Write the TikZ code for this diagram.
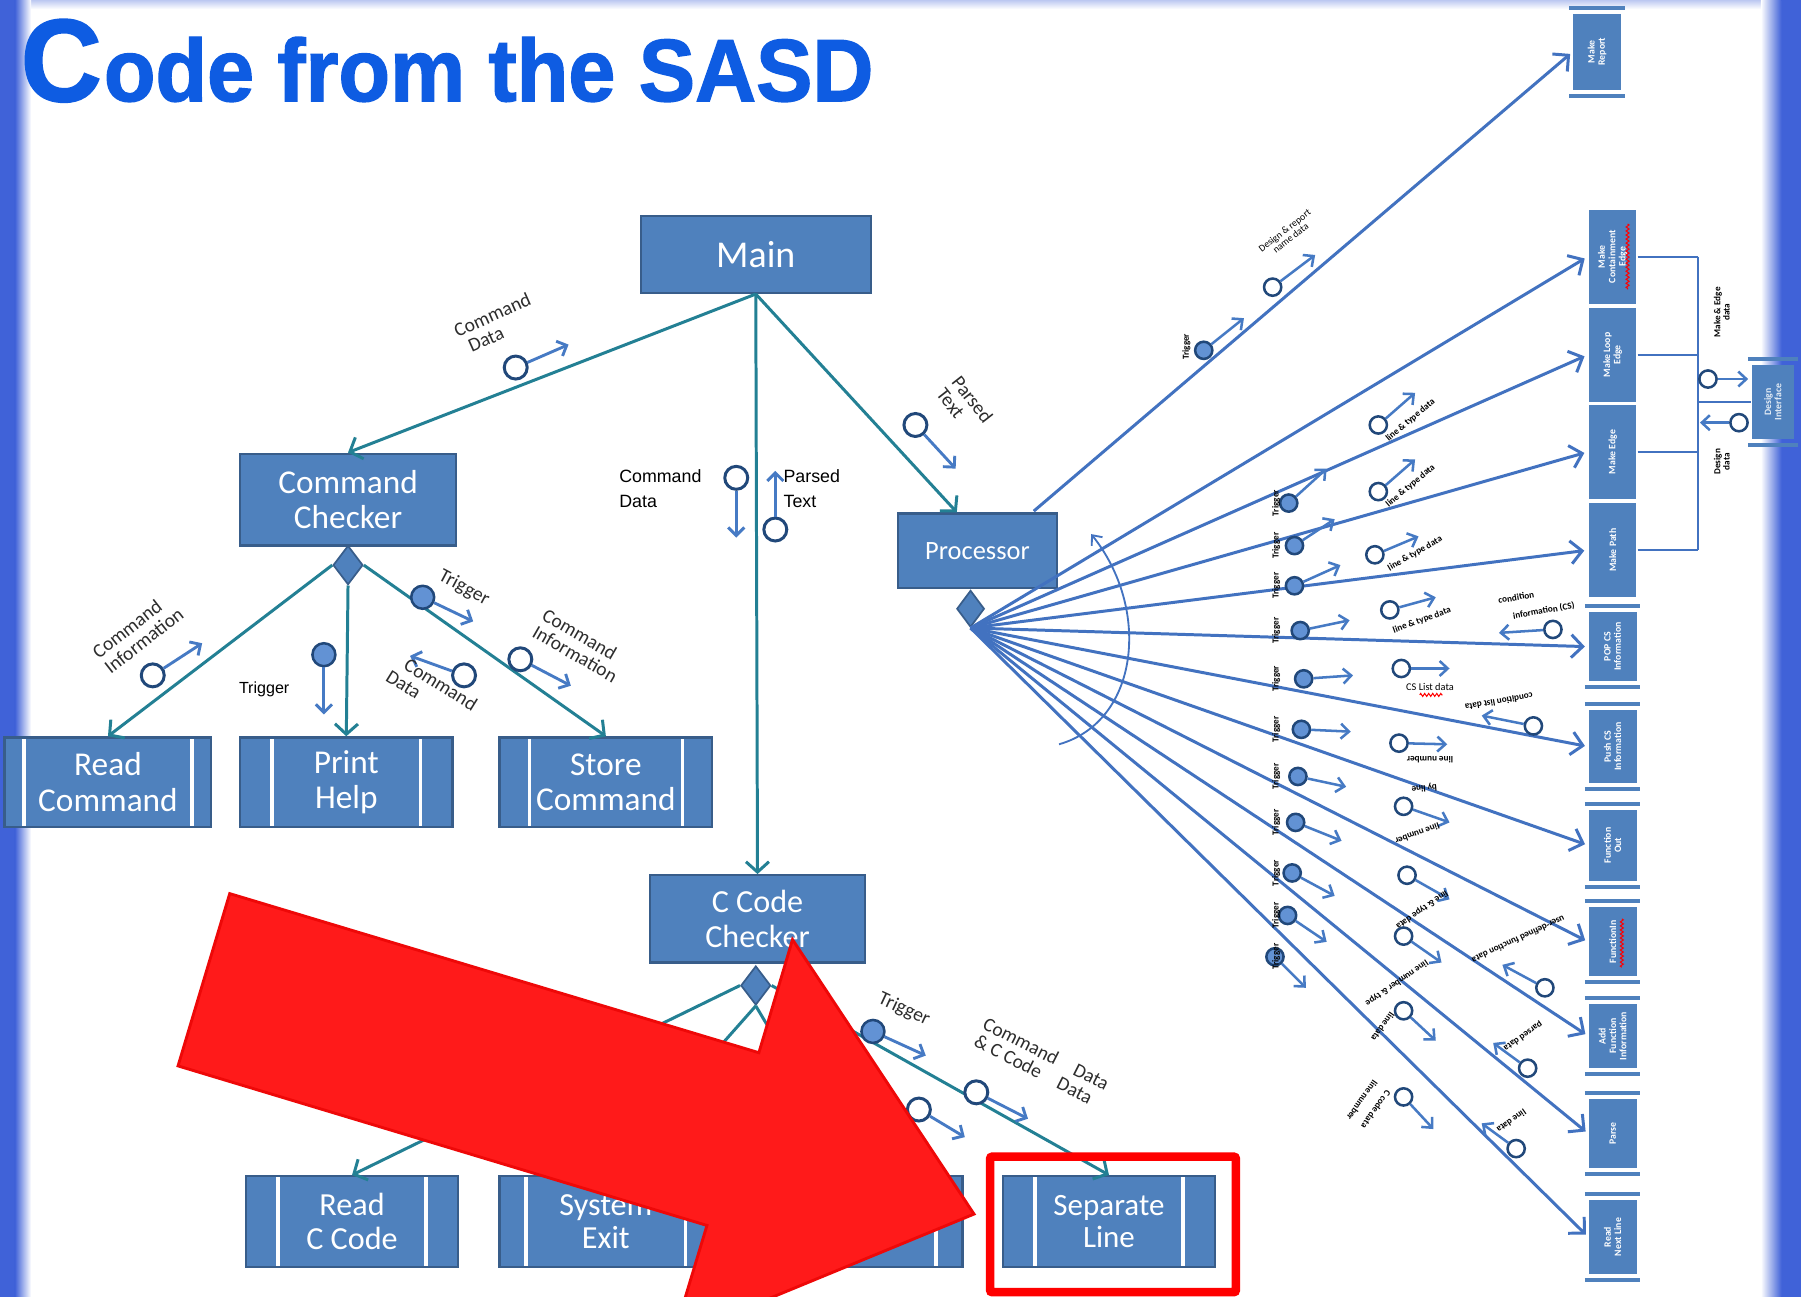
\documentclass[tikz,border=0pt]{standalone}
\usepackage{fontspec}
\usepackage{graphicx}
\setmainfont{Carlito}
\newfontfamily\headfont[BoldFeatures={FakeBold=1.6}]{Liberation Sans}
\newfontfamily\blockfont{Liberation Sans}
\usetikzlibrary{arrows.meta,calc,shapes.geometric,decorations.pathmorphing}

\definecolor{boxfill}{RGB}{79,129,189}
\definecolor{boxedge}{RGB}{56,93,138}
\definecolor{treeline}{RGB}{35,128,148}
\definecolor{fanline}{RGB}{66,114,192}
\definecolor{ringcol}{RGB}{33,72,122}
\definecolor{flowcol}{RGB}{70,122,196}
\definecolor{dotcol}{RGB}{98,146,212}
\definecolor{titleblue}{RGB}{14,92,226}
\definecolor{bandblue}{RGB}{64,98,216}
\definecolor{alarm}{RGB}{255,26,26}
\definecolor{alarmedge}{RGB}{238,8,8}
\definecolor{labelgray}{RGB}{45,45,45}

\newcommand\setfs[1]{\fontsize{#1}{#1}\selectfont}

\tikzset{
  box/.style={draw=boxedge, fill=boxfill, line width=2pt, text=white,
    align=center, inner sep=0pt},
  module/.style={box, path picture={
    \draw[white, line width=3pt]
      ([xshift=#1]path picture bounding box.north west) --
      ([xshift=#1]path picture bounding box.south west)
      ([xshift=-#1]path picture bounding box.north east) --
      ([xshift=-#1]path picture bounding box.south east);}},
  module/.default=28pt,
  diam/.style={diamond, draw=boxedge, fill=boxfill, line width=1.5pt,
    inner sep=0pt, minimum width=26pt, minimum height=34pt},
  tree/.style={draw=treeline, line width=2.6pt,
    -{Straight Barb[length=9pt,width=20pt]}},
  fan/.style={draw=fanline, line width=2.6pt, shorten >=3pt,
    -{Straight Barb[length=10pt,width=20pt]}},
  bus/.style={draw=fanline, line width=1.6pt},
  ring/.style={circle, draw=ringcol, line width=2.6pt, fill=white,
    minimum size=20pt, inner sep=0pt},
  dot/.style={circle, draw=ringcol, line width=2.2pt, fill=dotcol,
    minimum size=20pt, inner sep=0pt},
  sring/.style={ring, minimum size=15pt, line width=2.2pt},
  sdot/.style={dot, minimum size=15pt, line width=2.2pt},
  flow/.style={draw=flowcol, line width=2.5pt,
    -{Straight Barb[length=7pt,width=14pt]}},
  sflow/.style={draw=flowcol, line width=2.2pt,
    -{Straight Barb[length=7pt,width=13pt]}},
  lbl/.style={text=labelgray, font=\setfs{17}, align=left, inner sep=0pt},
  blk/.style={text=black, font=\blockfont\fontsize{15.5}{21}\selectfont,
    align=left, inner sep=0pt},
  tiny/.style={text=black, font=\bfseries\setfs{8}, align=center, inner sep=0pt},
  rcol/.style={fill=boxfill, draw=none, minimum width=42pt, inner sep=0pt},
  rtext/.style={text=white, font=\bfseries\fontsize{8.5}{9}\selectfont,
    align=center, inner sep=0pt, rotate=90},
  rbar/.style={draw=boxfill, line width=3.5pt},
  squiggle/.style={draw=red, line width=0.9pt, decorate,
    decoration={zigzag, amplitude=1.3pt, segment length=3.5pt}},
}

% data / control couple: circle node, arrow end, arrow
\newcommand\couple[5]{%
  \node[#2] (#1) at (#3) {};
  \coordinate (#1e) at (#4);
  \draw[#5] (#1) -- (#1e);}

% box of the right-hand column with its rotated caption
\newcommand\rbox[4]{%
  \node[rcol, minimum height=#3] (#1) at (#2) {};
  \node[rtext] (#1t) at (#1) {#4};}

% bars above and below a module of the right-hand column
\newcommand\rbars[1]{%
  \draw[rbar] ([xshift=-3pt, yshift=5pt]#1.north west) -- ([xshift=3pt, yshift=5pt]#1.north east)
              ([xshift=-3pt, yshift=-5pt]#1.south west) -- ([xshift=3pt, yshift=-5pt]#1.south east);}

\begin{document}
\begin{tikzpicture}[x=1pt, y=-1pt]
\useasboundingbox (0,0) rectangle (1568,1129);
\clip (0,0) rectangle (1568,1129);
\fill[white] (0,0) rectangle (1568,1129);

% slide frame
\shade[top color=bandblue!35, bottom color=white] (0,0) rectangle (1568,8);
\fill[bandblue] (0,0) rectangle (13,1129);
\shade[left color=bandblue, right color=white] (13,0) rectangle (27,1129);
\fill[bandblue] (1551,0) rectangle (1568,1129);
\shade[left color=white, right color=bandblue] (1533,0) rectangle (1551,1129);

% heading
\node[anchor=base west, inner sep=0pt, text=titleblue, font=\headfont\bfseries,
      xscale=0.955] (title) at (18,88) {{\setfs{102}C}\hspace{2pt}{\setfs{77}ode from the SASD}};

% ---------- left structure chart ----------
\node[box, minimum width=200pt, minimum height=67pt, font=\setfs{33}] (main) at (658,221.5) {Main};
\node[box, minimum width=188pt, minimum height=80pt, font=\fontsize{29}{30}\selectfont] (cc) at (303,435) {Command\\Checker};
\node[box, minimum width=138pt, minimum height=65pt, font=\setfs{23}] (proc) at (851,479.5) {Processor};
\node[box, minimum width=187pt, minimum height=76pt, font=\fontsize{28}{30}\selectfont] (ccc) at (659.5,800) {C Code\\Checker};

\node[diam] (ccd) at (303,492) {};
\node[diam] (cdd) at (658,858) {};
\node[diam, minimum width=24pt, minimum height=32pt] (pd) at (845,530) {};

\node[module=17pt, minimum width=180pt, minimum height=78pt, font=\fontsize{29}{31}\selectfont] (rc) at (94,681) {Read\\Command};
\node[module, minimum width=185pt, minimum height=78pt, font=\fontsize{29}{31}\selectfont] (ph) at (301.5,681) {Print\\Help};
\node[module=26pt, minimum width=185pt, minimum height=78pt, font=\fontsize{29}{31}\selectfont] (sc) at (527.5,681) {Store\\Command};

\node[module, minimum width=185pt, minimum height=79pt, font=\fontsize{28}{29}\selectfont] (rcc) at (306.5,1063.5) {Read\\C Code};
\node[module=23pt, minimum width=185pt, minimum height=79pt, font=\fontsize{28}{29}\selectfont] (se) at (527.5,1063.5) {System\\Exit};
\node[module=23pt, minimum width=185pt, minimum height=79pt] (pl) at (745.5,1063.5) {};
\node[module, minimum width=185pt, minimum height=79pt, font=\fontsize{27}{28}\selectfont] (sl) at (965.5,1063.5) {Separate\\Line};

\coordinate (procin) at ($(proc.north)+(-18,0)$);
\draw[tree] (main.south) -- (cc.north);
\draw[tree] (main.south) -- (ccc.north);
\draw[tree] (main.south) -- (procin);
\draw[tree] (ccd.west) -- (rc.north);
\draw[tree] (ccd.south) -- (ph.north);
\draw[tree] (ccd.east) -- (sc.north);
\draw[tree] (cdd.west) -- (rcc.north);
\draw[tree] (cdd.south) -- (se.north);
\draw[tree] (cdd.south) -- (pl.north);
\draw[tree] (cdd.east) -- (sl.north);

% couples of the left chart
\couple{k1}{ring}{449,320}{495,300}{flow}
\couple{k2}{ring}{641,416}{641,468}{flow}
\couple{k3}{ring}{675,461}{675,410}{flow}
\couple{k4}{ring}{797,370}{832,408}{flow}
\couple{k5}{ring}{133,588}{176,560}{flow}
\couple{k6}{dot}{282,570}{282,622}{flow}
\couple{k7}{dot}{368,520}{412,541}{flow}
\couple{k8}{ring}{404,588}{357,571}{flow}
\couple{k9}{ring}{453,574}{497,597}{flow}
\couple{k10}{dot}{760,898}{806,919}{flow}
\couple{k11}{ring}{850,951}{895,974}{flow}
\couple{k12}{ring}{800,966}{840,990}{flow}

\node[lbl, rotate=24] (lb1) at (432,282) {Command\\\hspace*{6pt}Data};
\node[blk, anchor=north west] (lb2) at (539,409) {Command\\Data};
\node[blk, anchor=north west] (lb3) at (682,409) {Parsed\\Text};
\node[lbl, rotate=-52] (lb4) at (840,353) {Parsed\\Text};
\node[lbl, rotate=38] (lb5) at (120,551) {Command\\Information};
\node[blk, font=\blockfont\setfs{14}] (lb6) at (230,600) {Trigger};
\node[lbl, rotate=-28] (lb7) at (404,512) {Trigger};
\node[lbl, rotate=-32] (lb8) at (376,601) {\hspace*{8pt}Command\\Data};
\node[lbl, rotate=-30] (lb9) at (505,562) {Command\\Information};
\node[lbl, rotate=-25] (lb10) at (787,879) {Trigger};
\node[lbl, rotate=-27] (lb11) at (907,925) {Command\quad Data\\\& C Code\quad Data};

% ---------- right-hand column ----------
\rbox{mrep}{1390.5,45}{66pt}{Make\\Report}
\draw[rbar] ([xshift=-3pt, yshift=5pt]mrep.north west) -- ([xshift=3pt, yshift=5pt]mrep.north east)
            ([xshift=-3pt, yshift=-5pt]mrep.south west) -- ([xshift=3pt, yshift=-5pt]mrep.south east);
\node[rcol, minimum height=83pt, draw=white, line width=1.5pt] (mcont) at (1404,223.5) {};
\node[rtext] (mcontt) at (mcont) {Make\\Containment\\Edge};
\node[rcol, minimum height=83pt, draw=white, line width=1.5pt] (mloop) at (1404,309) {};
\node[rtext] (mloopt) at (mloop) {Make Loop\\Edge};
\node[rcol, minimum height=83pt, draw=white, line width=1.5pt] (medge) at (1404,393.5) {};
\node[rtext] (medget) at (medge) {Make Edge};
\node[rcol, minimum height=83pt, draw=white, line width=1.5pt] (mpath) at (1404,479) {};
\node[rtext] (mpatht) at (mpath) {Make Path};
\draw[squiggle] (1417,195) -- (1417,252);

\rbox{pop}{1404,563}{60pt}{POP CS\\Information}\rbars{pop}
\rbox{push}{1404,650}{64pt}{Push CS\\Information}\rbars{push}
\rbox{fout}{1404,736}{62pt}{Function\\Out}\rbars{fout}
\rbox{fin}{1404,820}{60pt}{FunctionIn}\rbars{fin}
\draw[squiggle] (1412,800) -- (1412,842);
\rbox{addf}{1404,902}{56pt}{Add\\Function\\Information}\rbars{addf}
\rbox{parse}{1404,987}{60pt}{Parse}\rbars{parse}
\rbox{rnl}{1404,1077}{64pt}{Read\\Next Line}\rbars{rnl}

\node[rcol, minimum width=37pt, minimum height=64pt] (desint) at (1543.5,350) {};
\node[rtext, text=white!85!boxfill] (desintt) at (desint) {Design\\Interface};
\rbars{desint}

% bus to the design interface
\coordinate (busT) at (1478,223.5);
\coordinate (busB) at (1478,479);
\draw[bus] (mcont.east) -- (mcont.east -| busT);
\draw[bus] (mloop.east) -- (mloop.east -| busT);
\draw[bus] (medge.east) -- (medge.east -| busT);
\draw[bus] (mpath.east) -- (mpath.east -| busT);
\draw[bus] (busT) -- (busB);
\draw[bus, line width=2.2pt] (desint.west -| busT) -- (desint.west);
\couple{e1}{sring}{1487,330}{1522,330}{sflow}
\couple{e2}{sring}{1514,368}{1480,368}{sflow}
\node[tiny, rotate=90] (e1l) at (1499,272) {Make \& Edge\\data};
\node[tiny, rotate=90] (e2l) at (1499,402) {Design\\data};

% ---------- processor fan ----------
\coordinate (prtop) at (900,445);
\draw[fan] (prtop) -- (mrep.west);
\foreach \m in {mcont,mloop,medge,mpath,pop,push,fout,fin,addf,parse,rnl}
  \draw[fan] (pd.south) -- (\m.west);

% iteration arc
\coordinate (arcS) at (922,648);
\coordinate (arcE) at (950,465);
\draw[draw=fanline, line width=1.6pt, -{Straight Barb[length=7pt,width=12pt]}]
  (arcS) .. controls (992,628) and (1002,530) .. (arcE);

% control couples on the fan
\couple{t1}{sdot}{1048,305}{1083,277}{sflow}
\couple{t2}{sdot}{1122,438}{1155,408}{sflow}
\couple{t3}{sdot}{1127,475}{1162,452}{sflow}
\couple{t4}{sdot}{1127,510}{1167,492}{sflow}
\couple{t5}{sdot}{1132,549}{1175,540}{sflow}
\couple{t6}{sdot}{1135,591}{1178,588}{sflow}
\couple{t7}{sdot}{1133,635}{1176,637}{sflow}
\couple{t8}{sdot}{1130,676}{1172,685}{sflow}
\couple{t9}{sdot}{1128,716}{1168,732}{sflow}
\couple{t10}{sdot}{1125,760}{1162,780}{sflow}
\couple{t11}{sdot}{1121,797}{1155,820}{sflow}
\couple{t12}{sdot}{1110,833}{1137,860}{sflow}
\node[tiny, rotate=90] (t1l) at (1033,302) {Trigger};
\foreach \n/\y in {2/438,3/475,4/510,5/549,6/591,7/635,8/676,9/716,10/760,11/797,12/833}
  \node[tiny, rotate=90] (t\n l) at (1111,\y) {Trigger};

% data couples on the fan
\couple{d1}{sring}{1108,250}{1145,222}{sflow}
\node[tiny, font=\setfs{8.5}, rotate=38] (d1l) at (1121,204) {Design \& report\\name data};
\couple{d2}{sring}{1200,370}{1232,342}{sflow}
\node[tiny, rotate=40] (d2l) at (1228,366) {line \& type data};
\couple{d3}{sring}{1200,428}{1232,400}{sflow}
\node[tiny, rotate=40] (d3l) at (1228,423) {line \& type data};
\couple{d4}{sring}{1197,483}{1235,467}{sflow}
\node[tiny, rotate=30] (d4l) at (1232,482) {line \& type data};
\couple{d5}{sring}{1210,531}{1250,520}{sflow}
\node[tiny, rotate=20] (d5l) at (1238,540) {line \& type data};
\couple{d5b}{sring}{1352,548}{1305,551}{sflow}
\node[tiny, rotate=10] (d5bl) at (1320,520) {condition};
\node[tiny, rotate=10] (d5bm) at (1344,532) {information (CS)};
\couple{d6}{sring}{1220,582}{1262,582}{sflow}
\node[tiny, font=\setfs{9}] (d6l) at (1245,598) {CS List data};
\draw[squiggle] (1236,605) -- (1256,605);
\couple{d6b}{sring}{1335,632}{1290,623}{sflow}
\node[tiny, rotate=190] (d6bl) at (1305,611) {condition list data};
\couple{d7}{sring}{1218,647}{1260,648}{sflow}
\node[tiny, rotate=180] (d7l) at (1245,661) {line number};
\couple{d8}{sring}{1222,702}{1262,716}{sflow}
\node[tiny, rotate=185] (d8l) at (1240,686) {by line};
\node[tiny, rotate=200] (d8m) at (1234,726) {line number};
\couple{d9}{sring}{1225,762}{1262,783}{sflow}
\node[tiny, rotate=215] (d9l) at (1238,792) {line \& type data};
\couple{d10}{sring}{1222,815}{1255,838}{sflow}
\node[tiny, rotate=215] (d10l) at (1216,856) {line number \& type};
\couple{d11}{sring}{1222,880}{1250,906}{sflow}
\node[tiny, rotate=235] (d11l) at (1204,894) {line data};
\couple{d12}{sring}{1222,955}{1248,983}{sflow}
\node[tiny, rotate=235] (d12l) at (1198,966) {C code data};
\node[tiny, rotate=235] (d12m) at (1186,958) {line number};
\couple{g1}{sring}{1345,860}{1308,840}{sflow}
\node[tiny, rotate=205] (g1l) at (1322,818) {user-defined function data};
\couple{g2}{sring}{1330,930}{1300,908}{sflow}
\node[tiny, rotate=215] (g2l) at (1326,902) {parsed data};
\couple{g3}{sring}{1320,1000}{1290,978}{sflow}
\node[tiny, rotate=215] (g3l) at (1316,976) {line data};

% ---------- call-out ----------
\coordinate (ra1) at (200,778);
\coordinate (ra2) at (660.7,916.5);
\coordinate (ra3) at (690,818);
\coordinate (ra4) at (848,1057);
\coordinate (ra5) at (585.9,1165);
\coordinate (ra6) at (615.5,1066.9);
\coordinate (ra7) at (155,928);
\filldraw[fill=alarm, draw=alarmedge, line width=2.5pt, line join=miter]
  (ra1) -- (ra2) -- (ra3) -- (ra4) -- (ra5) -- (ra6) -- (ra7) -- cycle;
\draw[red, line width=7.5pt, rounded corners=2pt] (862,1007) rectangle (1076,1125);
\end{tikzpicture}
\end{document}
